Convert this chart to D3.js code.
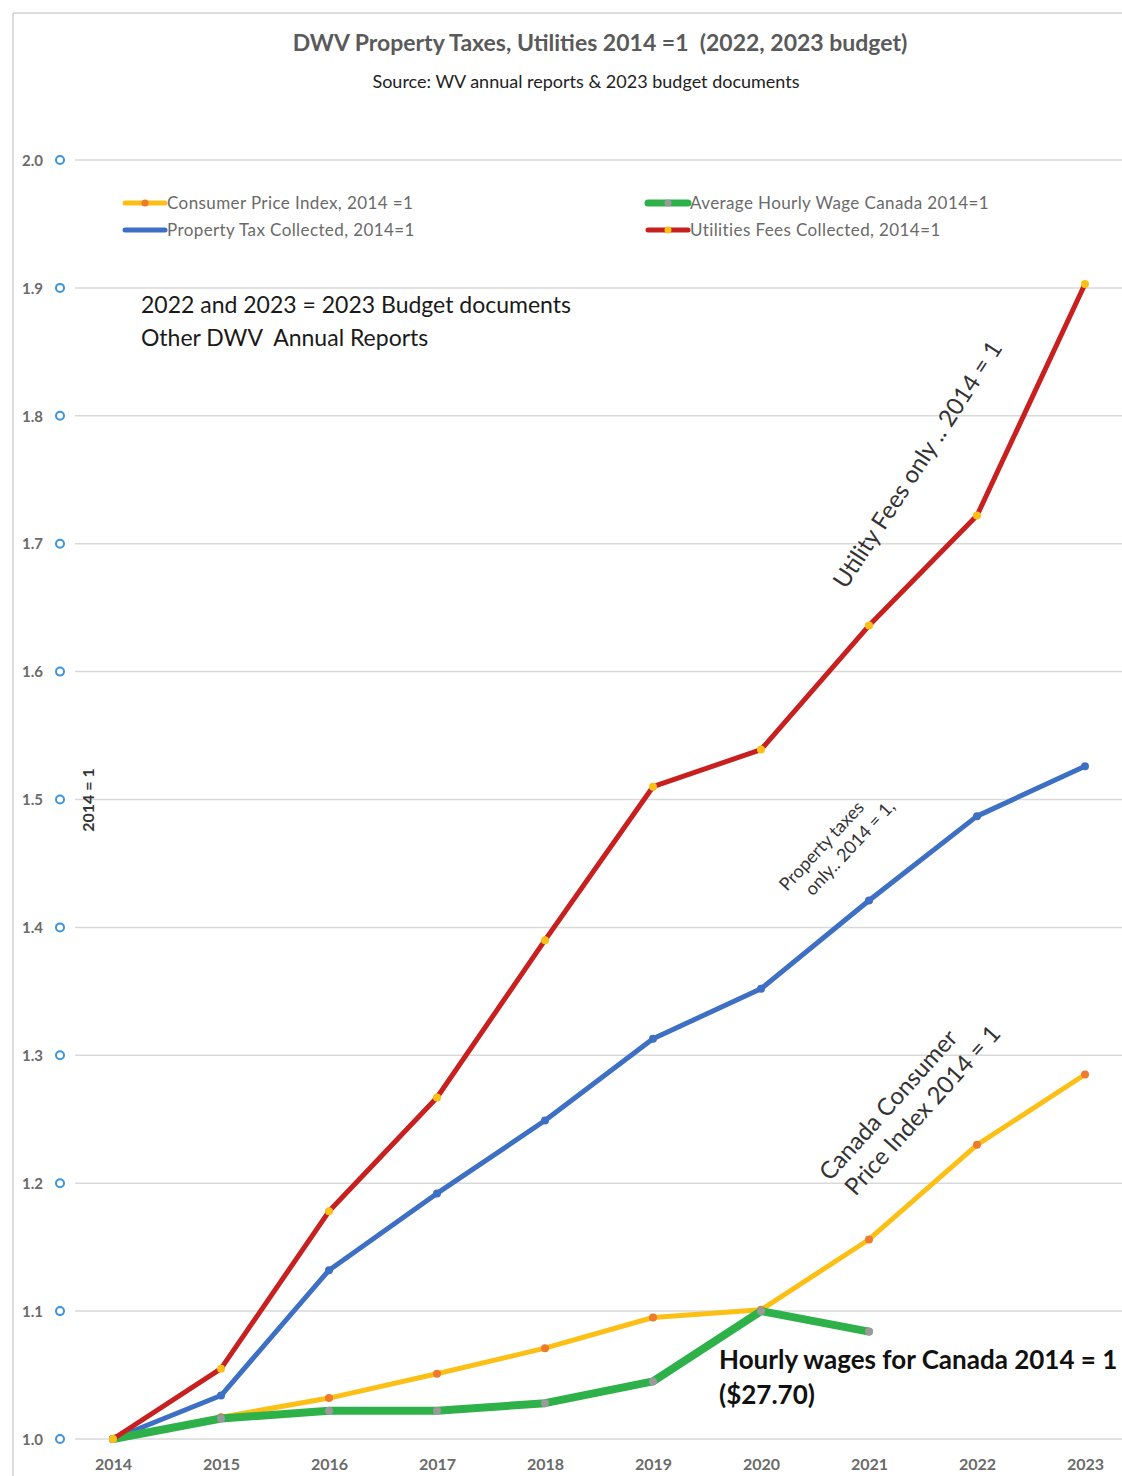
<!DOCTYPE html>
<html>
<head>
<meta charset="utf-8">
<script src="https://cdn.jsdelivr.net/npm/d3@7"></script>
<style>
  body { margin: 0; background: #fff; }
  text { font-family: Lato, "Open Sans", sans-serif; }
</style>
</head>
<body>
<script>
// chart size
var svgWidth = 1122;
var svgHeight = 1476;

// data
var years = ["2014", "2015", "2016", "2017", "2018", "2019", "2020", "2021", "2022", "2023"];
var cpi = [1.0, 1.017, 1.032, 1.051, 1.071, 1.095, 1.101, 1.156, 1.230, 1.285];
var propertyTax = [1.0, 1.034, 1.132, 1.192, 1.249, 1.313, 1.352, 1.421, 1.487, 1.526];
var hourlyWage = [1.0, 1.016, 1.022, 1.022, 1.028, 1.045, 1.100, 1.084];
var utilities = [1.0, 1.055, 1.178, 1.267, 1.390, 1.510, 1.539, 1.636, 1.722, 1.903];
var yTicks = [1.0, 1.1, 1.2, 1.3, 1.4, 1.5, 1.6, 1.7, 1.8, 1.9, 2.0];

var svg = d3.select("body")
  .append("svg")
  .attr("width", svgWidth)
  .attr("height", svgHeight);

// frame lines of the pasted chart
svg.append("line").attr("x1", 13).attr("x2", svgWidth).attr("y1", 13).attr("y2", 13)
  .attr("stroke", "#d0d0d0").attr("stroke-width", 1.5);
svg.append("line").attr("x1", 13).attr("x2", 13).attr("y1", 13).attr("y2", svgHeight)
  .attr("stroke", "#d0d0d0").attr("stroke-width", 1.5);

// scales
var x = d3.scalePoint().domain(years).range([113, 1085]);
var y = d3.scaleLinear().domain([1, 2]).range([1439, 160]);

// gridlines
svg.append("g")
  .selectAll("line")
  .data(yTicks)
  .enter()
  .append("line")
  .attr("x1", 75)
  .attr("x2", svgWidth)
  .attr("y1", d => y(d))
  .attr("y2", d => y(d))
  .attr("stroke", "#d9d9d9")
  .attr("stroke-width", 1.5);

// y axis labels with little blue rings
var yAxis = d3.axisLeft(y).tickValues(yTicks).tickFormat(d3.format(".1f")).tickSize(0).tickPadding(0);
var yg = svg.append("g").attr("transform", "translate(43,0)").call(yAxis);
yg.select(".domain").remove();
yg.selectAll("text")
  .attr("font-family", "Lato, sans-serif")
  .attr("font-size", "15px")
  .attr("font-weight", "bold")
  .attr("fill", "#6a6a6a")
  .attr("dy", "0.35em");

svg.append("g")
  .selectAll("circle")
  .data(yTicks)
  .enter()
  .append("circle")
  .attr("cx", 60)
  .attr("cy", d => y(d))
  .attr("r", 4)
  .attr("fill", "#fff")
  .attr("stroke", "#3d94dc")
  .attr("stroke-width", 2);

// x axis labels
var xAxis = d3.axisBottom(x).tickSize(0).tickPadding(0);
var xg = svg.append("g").attr("transform", "translate(0,1459)").call(xAxis);
xg.select(".domain").remove();
xg.selectAll("text")
  .attr("font-family", "Lato, sans-serif")
  .attr("font-size", "16px")
  .attr("font-weight", "bold")
  .attr("fill", "#6a6a6a");

// series
var series = [
  { name: "Property Tax Collected, 2014=1", values: propertyTax, color: "#3d6fc4", dot: "#3d6fc4", width: 5 },
  { name: "Consumer Price Index, 2014 =1", values: cpi, color: "#fbbf16", dot: "#ef7a2e", width: 5 },
  { name: "Average Hourly Wage Canada 2014=1", values: hourlyWage, color: "#2fb14a", dot: "#9a9a9a", width: 8 },
  { name: "Utilities Fees Collected, 2014=1", values: utilities, color: "#c8201f", dot: "#fbbf16", width: 5 }
];

var line = d3.line()
  .x((d, i) => x(years[i]))
  .y(d => y(d));

series.forEach(function(s) {
  svg.append("path")
    .datum(s.values)
    .attr("d", line)
    .attr("fill", "none")
    .attr("stroke", s.color)
    .attr("stroke-width", s.width)
    .attr("stroke-linejoin", "round")
    .attr("stroke-linecap", "round");

  svg.append("g")
    .selectAll("circle")
    .data(s.values)
    .enter()
    .append("circle")
    .attr("cx", (d, i) => x(years[i]))
    .attr("cy", d => y(d))
    .attr("r", 4)
    .attr("fill", s.dot);
});

// legend
var legendItems = [
  { s: series[1], lx: 125, ly: 203 },
  { s: series[0], lx: 125, ly: 230 },
  { s: series[2], lx: 648, ly: 203 },
  { s: series[3], lx: 648, ly: 230 }
];
legendItems.forEach(function(it) {
  svg.append("line")
    .attr("x1", it.lx).attr("x2", it.lx + 40)
    .attr("y1", it.ly).attr("y2", it.ly)
    .attr("stroke", it.s.color)
    .attr("stroke-width", it.s.width === 8 ? 7 : 5)
    .attr("stroke-linecap", "round");
  if (it.s !== series[0]) {
    svg.append("circle").attr("cx", it.lx + 20).attr("cy", it.ly).attr("r", 3.5).attr("fill", it.s.dot);
  }
  svg.append("text")
    .attr("x", it.lx + 42)
    .attr("y", it.ly)
    .attr("dy", "0.35em")
    .attr("font-size", "17px")
    .attr("letter-spacing", "0.4px")
    .attr("fill", "#6a6a6a")
    .text(it.s.name);
});

// titles
svg.append("text")
  .attr("x", 600).attr("y", 51)
  .attr("text-anchor", "middle")
  .attr("font-size", "23px")
  .attr("font-weight", "bold")
  .attr("fill", "#5a5a5a")
  .attr("xml:space", "preserve")
  .text("DWV Property Taxes, Utilities 2014 =1  (2022, 2023 budget)");

svg.append("text")
  .attr("x", 586).attr("y", 88)
  .attr("text-anchor", "middle")
  .attr("font-size", "18px")
  .attr("fill", "#222")
  .text("Source: WV annual reports & 2023 budget documents");

// notes
svg.append("text")
  .attr("x", 141).attr("y", 313)
  .attr("font-size", "23px")
  .attr("fill", "#1a1a1a")
  .text("2022 and 2023 = 2023 Budget documents");
svg.append("text")
  .attr("x", 141).attr("y", 346)
  .attr("font-size", "23px")
  .attr("fill", "#1a1a1a")
  .attr("xml:space", "preserve")
  .text("Other DWV  Annual Reports");

svg.append("text")
  .attr("transform", "translate(94,800) rotate(-90)")
  .attr("text-anchor", "middle")
  .attr("font-size", "16px")
  .attr("font-weight", "bold")
  .attr("fill", "#333")
  .text("2014 = 1");

svg.append("text")
  .attr("transform", "translate(846,590) rotate(-57)")
  .attr("font-size", "24px")
  .attr("fill", "#333")
  .text("Utility Fees only .. 2014 = 1");

var pt = svg.append("text")
  .attr("transform", "translate(787,892) rotate(-47)")
  .attr("font-size", "18px")
  .attr("fill", "#333");
pt.append("tspan").attr("x", 0).attr("y", 0).text("Property taxes");
pt.append("tspan").attr("x", 14).attr("y", 22).text("only.. 2014 = 1,");

var cp = svg.append("text")
  .attr("transform", "translate(830,1182) rotate(-48)")
  .attr("font-size", "24px")
  .attr("fill", "#333");
cp.append("tspan").attr("x", 0).attr("y", 0).text("Canada Consumer");
cp.append("tspan").attr("x", 6).attr("y", 29).text("Price Index 2014 = 1");

svg.append("text")
  .attr("x", 719).attr("y", 1369)
  .attr("font-size", "26px")
  .attr("font-weight", "bold")
  .attr("fill", "#111")
  .text("Hourly wages for Canada 2014 = 1");
svg.append("text")
  .attr("x", 719).attr("y", 1404)
  .attr("font-size", "26px")
  .attr("font-weight", "bold")
  .attr("fill", "#111")
  .text("($27.70)");
</script>
</body>
</html>
